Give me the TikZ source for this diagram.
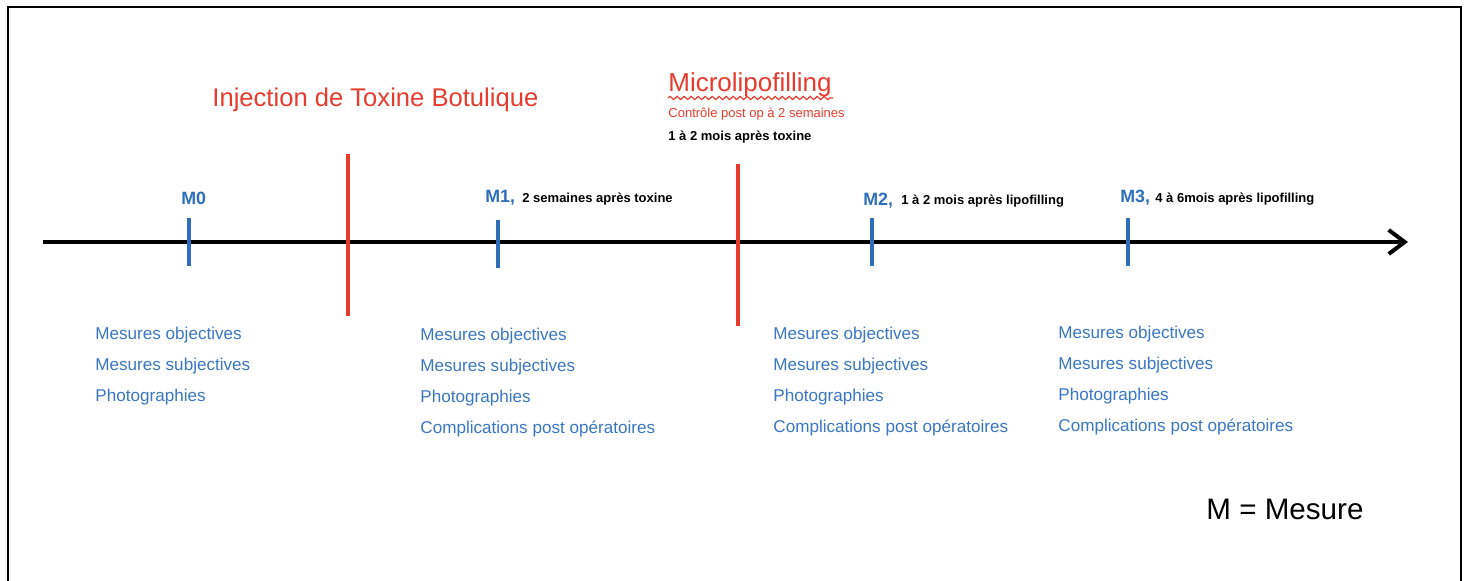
\documentclass[tikz,border=0pt]{standalone}
\usepackage{fontspec}
\setmainfont{Liberation Sans}
\usepackage{tikz}
\usetikzlibrary{positioning,arrows.meta,decorations.pathmorphing}
\definecolor{markblue}{HTML}{2F6EBA}
\definecolor{listblue}{HTML}{3B76C2}
\definecolor{eventred}{HTML}{E63B2E}

\tikzset{
  eventline/.style={line width=1.8pt, eventred},
  tickline/.style={line width=1.6pt, markblue},
  mlabel/.style={anchor=base west, inner sep=0pt, text=markblue,
    font=\fontsize{8.9}{11}\selectfont\bfseries},
  note/.style={anchor=base west, inner sep=0pt,
    font=\fontsize{6.5}{8}\selectfont\bfseries},
  item/.style={anchor=base west, inner sep=0pt, text=listblue,
    font=\fontsize{8.55}{10}\selectfont},
  title/.style={anchor=base west, inner sep=0pt, text=eventred}
}

\begin{document}
\begin{tikzpicture}[x=0.5pt, y=-0.5pt]
  \useasboundingbox (0,0) rectangle (1466,581);

  % Outer frame (open at the bottom)
  \draw[line width=1.2pt] (8,581) -- (8,7) -- (1461,7) -- (1461,581);

  % Time axis
  \coordinate (tstart) at (43,242);
  \coordinate (tend) at (1408,242);
  \draw[line width=2pt, -{Straight Barb[length=8pt,width=12pt]}] (tstart) -- (tend);

  % Events in red
  \coordinate (inj-top) at (348,154);
  \coordinate (inj-bot) at (348,316);
  \draw[eventline] (inj-top) -- (inj-bot);
  \coordinate (lipo-top) at (738,164);
  \coordinate (lipo-bot) at (738,326);
  \draw[eventline] (lipo-top) -- (lipo-bot);

  \node[title, font=\fontsize{12.8}{15}\selectfont] (inj) at (212,107) {Injection de Toxine Botulique};
  \node[title, font=\fontsize{13}{15}\selectfont] (lipo) at (668,92) {Microlipofilling};
  \coordinate (wavyL) at (668,98);
  \coordinate (wavyR) at (833,98);
  \draw[eventred, line width=0.6pt, decorate,
    decoration={snake, amplitude=0.8pt, segment length=3.5pt}] (wavyL) -- (wavyR);
  \node[title, font=\fontsize{6.5}{8}\selectfont] (ctrl) at (668,118) {Contrôle post op à 2 semaines};
  \node[note] (lipodelay) at (668,141) {1 à 2 mois après toxine};

  % Measurement ticks in blue
  \foreach \name/\x/\top/\bot in {m0/189/218/266, m1/498/220/268, m2/872/218/266, m3/1128/218/266} {
    \coordinate (\name-top) at (\x,\top);
    \coordinate (\name-bot) at (\x,\bot);
    \draw[tickline] (\name-top) -- (\name-bot);
  }

  \node[mlabel] (m0lab) at (181,205) {M0};
  \node[mlabel] (m1lab) at (485,203) {M1,};
  \node[note] (m1note) at (522,203) {2 semaines après toxine};
  \node[mlabel] (m2lab) at (863,206) {M2,};
  \node[note] (m2note) at (901,205) {1 à 2 mois après lipofilling};
  \node[mlabel] (m3lab) at (1120,203) {M3,};
  \node[note] (m3note) at (1155,203) {4 à 6mois après lipofilling};

  % Lists of measures
  \foreach \txt [count=\i] in {Mesures objectives, Mesures subjectives, Photographies}
    \node[item] (mz-\i) at (95,309+31*\i) {\txt};
  \foreach \txt [count=\i] in {Mesures objectives, Mesures subjectives, Photographies, Complications post opératoires}
    \node[item] (mo-\i) at (420,310+31*\i) {\txt};
  \foreach \txt [count=\i] in {Mesures objectives, Mesures subjectives, Photographies, Complications post opératoires}
    \node[item] (mt-\i) at (773,309+31*\i) {\txt};
  \foreach \txt [count=\i] in {Mesures objectives, Mesures subjectives, Photographies, Complications post opératoires}
    \node[item] (mh-\i) at (1058,308+31*\i) {\txt};

  % Legend
  \node[anchor=base west, inner sep=0pt, font=\fontsize{14.8}{17}\selectfont] (legend) at (1206,520) {M = Mesure};
\end{tikzpicture}
\end{document}
